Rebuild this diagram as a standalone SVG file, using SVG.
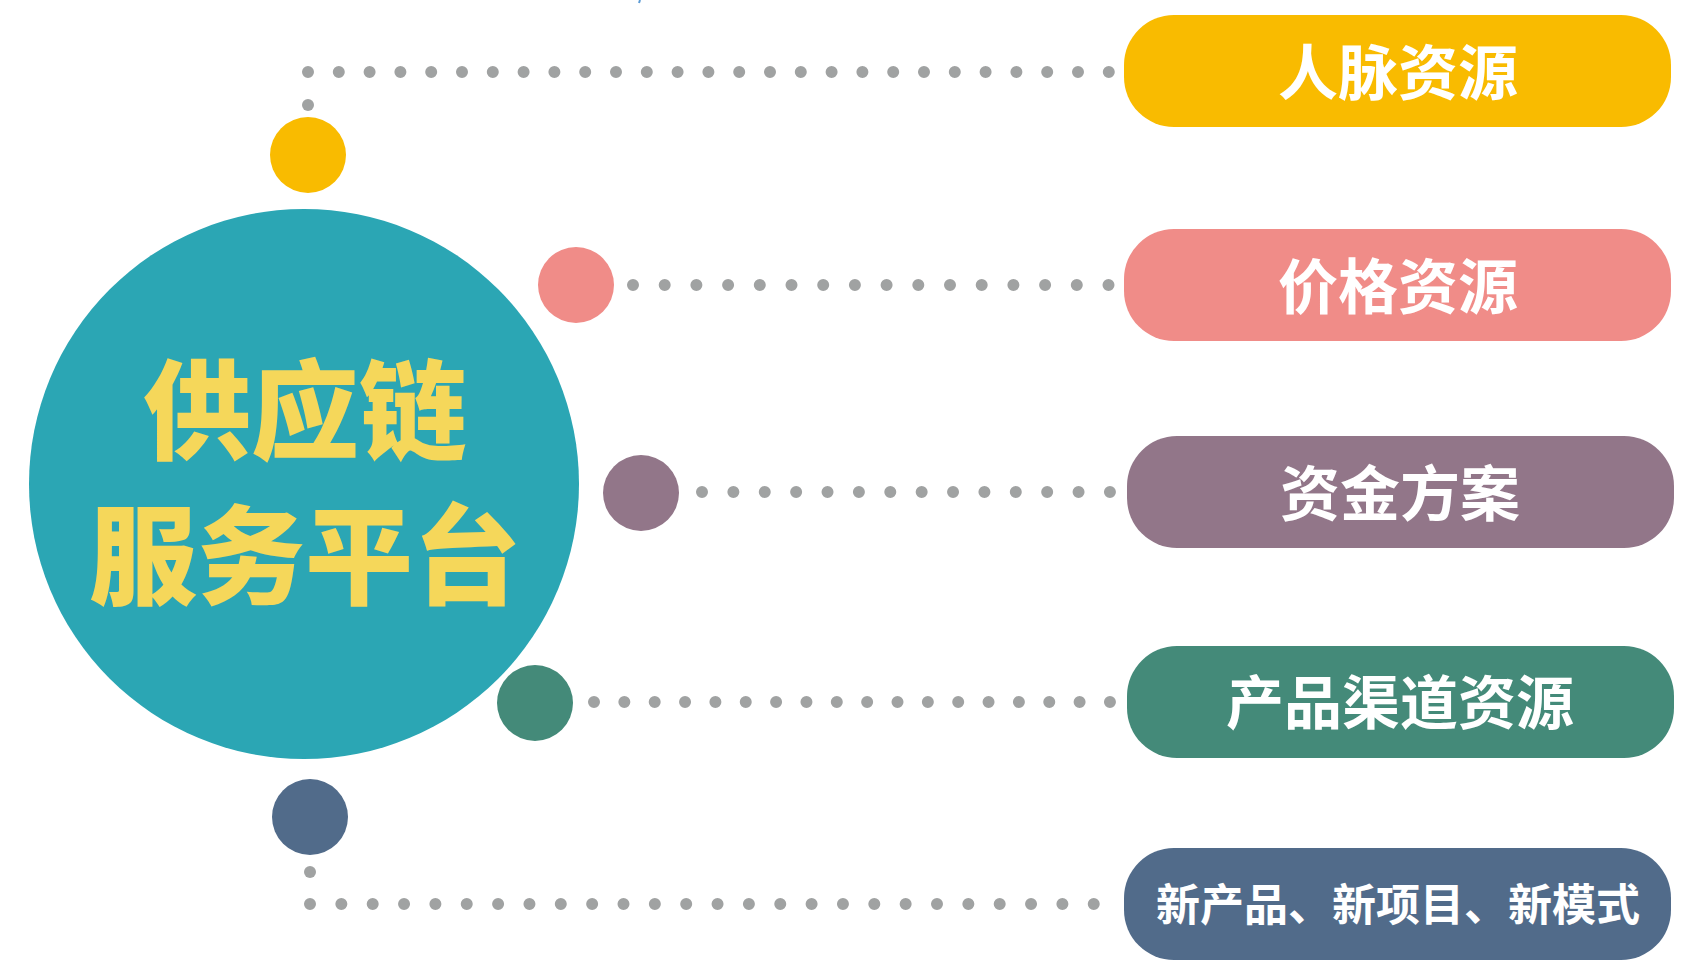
<svg xmlns="http://www.w3.org/2000/svg" width="1697" height="979" viewBox="0 0 1697 979">
<style>
.dots{fill:none;stroke:#A0A2A2;stroke-width:12;stroke-linecap:round}
.dot{fill:#A0A2A2}
.pt{font-family:"Noto Sans CJK SC","Noto Sans",sans-serif;font-weight:700;fill:#FFFFFF;text-anchor:middle;dominant-baseline:central}
.ht{font-family:"Noto Sans CJK SC","Noto Sans",sans-serif;font-weight:900;fill:#F5D75A;text-anchor:middle;dominant-baseline:central;font-size:108px}
</style>
<rect width="1697" height="979" fill="#FFFFFF"/>
<path d="M640 0 L639 3" stroke="#5B9BD5" stroke-width="2"/>
<g id="connectors">
<path class="dots" d="M308 72 H1110" stroke-dasharray="0 30.8"/>
<circle class="dot" cx="308" cy="105" r="6"/>
<path class="dots" d="M633 285 H1110" stroke-dasharray="0 31.7"/>
<path class="dots" d="M702 492 H1111" stroke-dasharray="0 31.38"/>
<path class="dots" d="M594 702 H1111" stroke-dasharray="0 30.35"/>
<path class="dots" d="M310 904 H1095" stroke-dasharray="0 31.35"/>
<circle class="dot" cx="310" cy="872" r="6"/>
</g>
<g id="hub">
<circle cx="304" cy="484" r="275" fill="#2BA6B4"/>
<text class="ht" x="305" y="404">供应链</text>
<text class="ht" x="305" y="549">服务平台</text>
</g>
<g id="dot-yellow"><circle cx="308" cy="155" r="38" fill="#F9BB00"/></g>
<g id="dot-pink"><circle cx="576" cy="285" r="38" fill="#F08C88"/></g>
<g id="dot-purple"><circle cx="641" cy="493" r="38" fill="#927689"/></g>
<g id="dot-green"><circle cx="535" cy="703" r="38" fill="#448A79"/></g>
<g id="dot-navy"><circle cx="310" cy="817" r="38" fill="#516B8A"/></g>
<g id="pill-renmai">
<rect x="1124" y="15" width="547" height="112" rx="50" fill="#F9BB00"/>
<text class="pt" x="1398" y="68" font-size="60">人脉资源</text>
</g>
<g id="pill-jiage">
<rect x="1124" y="229" width="547" height="112" rx="50" fill="#F08C88"/>
<text class="pt" x="1398" y="282" font-size="60">价格资源</text>
</g>
<g id="pill-zijin">
<rect x="1127" y="436" width="547" height="112" rx="50" fill="#927689"/>
<text class="pt" x="1400" y="489" font-size="60">资金方案</text>
</g>
<g id="pill-qudao">
<rect x="1127" y="646" width="547" height="112" rx="50" fill="#448A79"/>
<text class="pt" x="1400" y="699" font-size="58">产品渠道资源</text>
</g>
<g id="pill-xin">
<rect x="1124" y="848" width="547" height="112" rx="50" fill="#516B8A"/>
<text class="pt" x="1398" y="902" font-size="44">新产品、新项目、新模式</text>
</g>
</svg>
